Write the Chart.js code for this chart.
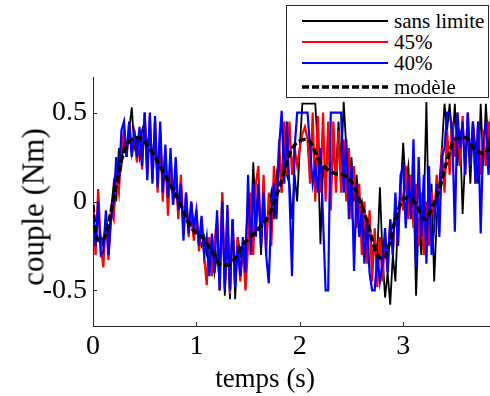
<!DOCTYPE html>
<html>
<head>
<meta charset="utf-8">
<script src="https://cdn.jsdelivr.net/npm/chart.js@4.4.0/dist/chart.umd.min.js"></script>
<style>
  html, body { margin: 0; padding: 0; background: #fff; font-family: 'Liberation Serif', serif; }
  #wrap { position: relative; width: 490px; height: 396px; overflow: hidden; }
  #legend { position: absolute; left: 286px; top: 5px; width: 201px; height: 91px;
    border: 1px solid #262626; background: #fff; color: #000; }
  .row { position: absolute; left: 0; width: 200px; height: 24px; }
  .row svg { position: absolute; left: 15px; top: 0; }
  .row span { position: absolute; left: 107px; top: 0; line-height: 24px; white-space: nowrap;
    font-family: 'Liberation Serif', serif; font-size: 21px; }
  .axt { position: absolute; font-family: 'Liberation Serif', serif; color: #000; white-space: nowrap;
    line-height: 1; }
  #xt { left: 265px; top: 378px; font-size: 27px; transform: translate(-50%, -50%); }
  #yt { left: 33px; top: 207px; font-size: 31px; transform: translate(-50%, -50%) rotate(-90deg); }
</style>
</head>
<body>
<div id="wrap">
  <canvas id="c" width="490" height="396"></canvas>
  <div id="legend"></div>
  <div class="axt" id="xt">temps (s)</div>
  <div class="axt" id="yt">couple (Nm)</div>
</div>
<script>
// time step of the measured signals (s)
const dt = 0.025;

const xTicks = [0, 1, 2, 3];
const yTicks = [-0.5, 0, 0.5];
const yTickLabels = ["-0.5", "0", "0.5"];

const seriesNames = ["sans limite", "45%", "40%", "modèle"];

// sans limite
const sansLimite = [
  -0.10, -0.25, -0.05, -0.20,  -0.25, -0.10, -0.20, -0.05,
  0.10, 0.00, 0.30, 0.20,      0.35, 0.30, 0.40, 0.53,
  0.30, 0.35, 0.25, 0.40,      0.45, 0.30, 0.40, 0.25,
  0.30, 0.15, 0.25, 0.10,      0.20, 0.00, 0.15, 0.05,
  0.10, -0.05, 0.05, -0.10,    -0.05, -0.15, -0.10, -0.20,
  -0.15, -0.20, -0.25, -0.20,  -0.30, -0.35, -0.25, -0.40,
  -0.30, -0.45, 0.05, -0.53,   -0.20, -0.55, -0.10, -0.55,
  -0.20, -0.30, -0.35, -0.25,  0.00, -0.20, 0.22, -0.10,
  0.10, -0.30, 0.00, -0.20,    -0.05, 0.05, -0.10, 0.15,
  0.25, 0.05, 0.30, 0.15,      0.10, -0.10, 0.15, 0.00,
  0.30, 0.55, 0.55, 0.55,      0.55, 0.55, 0.55, 0.30,
  -0.24, 0.20, 0.10, 0.40,     0.05, 0.30, 0.15, 0.45,
  0.20, 0.56, 0.30, 0.10,      0.25, 0.00, 0.15, -0.05,
  0.00, -0.15, -0.30, -0.10,   -0.35, -0.20, -0.30, 0.08,
  -0.30, -0.54, -0.40, -0.58,  -0.30, -0.45, -0.10, 0.05,
  0.33, 0.10, 0.20, -0.05,     0.10, -0.53, -0.10, -0.30,
  -0.05, 0.56, -0.20, 0.10,    -0.45, -0.10, 0.10, 0.30,
  0.55, 0.40, 0.55, 0.30,      0.55, 0.20, 0.40, -0.07,
  0.25, 0.40, 0.10, 0.45,      0.30, 0.10, 0.55, 0.20,
  0.55, 0.30, 0.50
];

// 45%
const lim45 = [
  0.00, -0.30, 0.07, -0.25,    -0.37, -0.10, -0.33, -0.05,
  -0.10, 0.15, 0.05, 0.30,     0.40, 0.25, 0.45, 0.28,
  0.38, 0.22, 0.40, 0.18,      0.50, 0.15, 0.48, 0.12,
  0.45, 0.05, 0.40, 0.00,      0.30, -0.08, 0.25, -0.02,
  0.20, -0.10, 0.15, -0.15,    0.05, -0.20, 0.00, -0.22,
  -0.05, -0.28, -0.10, -0.30,  -0.47, -0.20, -0.42, -0.22,
  -0.10, -0.50, 0.05, -0.48,   -0.05, -0.52, -0.10, -0.45,
  -0.20, -0.45, -0.25, -0.50,  -0.25, 0.05, -0.30, 0.10,
  0.20, -0.25, 0.15, -0.30,    0.05, -0.25, 0.20, -0.05,
  0.35, 0.05, 0.45, 0.15,      0.45, 0.15, 0.30, 0.20,
  0.30, 0.38, 0.42, 0.35,      0.10, 0.50, 0.00, 0.48,
  0.05, 0.50, 0.00, 0.45,      -0.05, 0.45, 0.05, 0.40,
  0.05, 0.35, 0.00, 0.30,      -0.10, 0.20, -0.15, 0.10,
  -0.30, 0.00, -0.35, -0.05,   -0.45, -0.15, -0.48, -0.20,
  -0.45, -0.20, -0.40, -0.10,  -0.30, 0.00, -0.25, 0.10,
  -0.05, 0.20, -0.10, 0.15,    -0.15, 0.10, -0.25, 0.05,
  -0.30, 0.00, -0.25, 0.05,    -0.10, 0.15, -0.05, 0.30,
  0.05, 0.40, 0.15, 0.45,      0.25, 0.50, 0.20, 0.48,
  0.15, 0.50, 0.20, 0.45,      0.10, 0.45, 0.15, 0.40,
  0.20, 0.45, 0.30
];

// 40%
const lim40 = [
  -0.05, -0.25, 0.00, -0.30,   -0.28, -0.05, -0.30, -0.10,
  0.00, 0.25, 0.10, 0.40,      0.45, 0.25, 0.45, 0.25,
  0.40, 0.25, 0.42, 0.20,      0.50, 0.12, 0.50, 0.10,
  0.48, 0.08, 0.45, 0.05,      0.32, 0.02, 0.30, -0.02,
  0.25, -0.05, 0.10, -0.22,    0.05, -0.18, 0.00, -0.15,
  -0.05, -0.25, -0.08, -0.30,  -0.20, -0.42, -0.18, -0.40,
  -0.05, -0.50, 0.00, -0.50,   -0.02, -0.50, -0.10, -0.48,
  -0.25, -0.42, -0.20, -0.40,  0.15, -0.30, 0.10, -0.20,
  0.10, -0.25, 0.05, -0.30,    -0.46, -0.05, 0.10, -0.10,
  0.30, 0.51, 0.10, 0.45,      0.05, -0.42, 0.30, 0.50,
  0.50, 0.50, 0.50, 0.50,      0.30, 0.10, 0.20, 0.05,
  0.30, -0.10, -0.50, -0.50,   0.50, 0.50, 0.50, 0.50,
  0.50, 0.05, 0.35, -0.10,     0.20, -0.39, 0.10, -0.20,
  -0.05, -0.35, -0.10, -0.40,  -0.50, -0.50, -0.30, -0.45,
  -0.35, -0.15, -0.40, -0.10,  -0.30, 0.05, -0.25, 0.15,
  0.20, -0.15, 0.15, -0.10,    0.35, -0.37, 0.25, -0.20,
  0.15, -0.35, 0.20, -0.30,    -0.15, 0.10, -0.20, 0.25,
  0.30, 0.50, 0.50, 0.40,      -0.17, 0.50, 0.30, 0.45,
  0.15, 0.50, 0.20, 0.45,      0.10, 0.45, -0.18, 0.35,
  0.45, 0.15, 0.40
];

// modèle (smooth reference curve)
const modelT = [0, 0.02, 0.06, 0.12, 0.17, 0.22, 0.27, 0.33, 0.43, 0.52,
  0.62, 0.73, 0.85, 0.94, 1.07, 1.17, 1.25, 1.35, 1.44, 1.54,
  1.62, 1.70, 1.78, 1.85, 1.91, 1.97, 2.07, 2.2, 2.33, 2.46,
  2.55, 2.65, 2.75, 2.81, 2.87, 2.92, 3.02, 3.12, 3.21, 3.29,
  3.36, 3.42, 3.50, 3.60, 3.68, 3.78, 3.84];
const modelV = [-0.02, -0.15, -0.22, -0.19, -0.07, 0.08, 0.22, 0.32, 0.36, 0.32,
  0.23, 0.11, -0.02, -0.14, -0.21, -0.30, -0.36, -0.34, -0.25, -0.19,
  -0.14, -0.08, 0.04, 0.17, 0.28, 0.33, 0.35, 0.22, 0.16, 0.14,
  0.05, -0.11, -0.30, -0.32, -0.23, -0.11, 0.02, -0.01, -0.10, -0.02,
  0.09, 0.22, 0.35, 0.36, 0.30, 0.27, 0.30];

const colors = ["#000000", "#ff0000", "#0000ff", "#000000"];

function pts(vals) {
  return vals.map(function (v, i) { return { x: i * dt, y: v }; });
}
var modelPts = modelT.map(function (t, i) { return { x: t, y: modelV[i] }; });

// legend (html so the labels stay real text)
var legend = document.getElementById("legend");
var rowTops = [3, 24, 45, 69];
seriesNames.forEach(function (name, i) {
  var row = document.createElement("div");
  row.className = "row";
  row.style.top = rowTops[i] + "px";
  var dash = i === 3 ? ' stroke-dasharray="7 3" stroke-width="3.5"' : ' stroke-width="2"';
  row.innerHTML = '<svg width="86" height="24"><line x1="0" y1="12" x2="86" y2="12" stroke="' +
    colors[i] + '"' + dash + '/></svg><span></span>';
  row.querySelector("span").textContent = name;
  legend.appendChild(row);
});

// inward tick marks, matlab style
const tickMarks = {
  id: "tickMarks",
  afterDraw: function (chart) {
    var ctx = chart.ctx, xs = chart.scales.x, ys = chart.scales.y, a = chart.chartArea;
    ctx.save();
    ctx.strokeStyle = "#262626";
    ctx.lineWidth = 1;
    ctx.beginPath();
    xTicks.forEach(function (v) {
      var px = Math.round(xs.getPixelForValue(v)) + 0.5;
      ctx.moveTo(px, a.bottom); ctx.lineTo(px, a.bottom - 4);
    });
    yTicks.forEach(function (v) {
      var py = Math.round(ys.getPixelForValue(v)) + 0.5;
      ctx.moveTo(a.left, py); ctx.lineTo(a.left + 4, py);
    });
    ctx.stroke();
    ctx.restore();
  }
};

var serif = "'Liberation Serif', 'Times New Roman', serif";

new Chart(document.getElementById("c").getContext("2d"), {
  type: "line",
  data: {
    datasets: [
      { label: seriesNames[3], data: modelPts, borderColor: colors[3], borderWidth: 3.5,
        borderDash: [7, 3], tension: 0.4, cubicInterpolationMode: "monotone", pointRadius: 0, order: 0 },
      { label: seriesNames[2], data: pts(lim40), borderColor: colors[2], borderWidth: 2.2,
        pointRadius: 0, tension: 0, order: 1 },
      { label: seriesNames[1], data: pts(lim45), borderColor: colors[1], borderWidth: 2.2,
        pointRadius: 0, tension: 0, order: 2 },
      { label: seriesNames[0], data: pts(sansLimite), borderColor: colors[0], borderWidth: 1.8,
        pointRadius: 0, tension: 0, order: 3 }
    ]
  },
  options: {
    responsive: false,
    devicePixelRatio: 1,
    animation: false,
    layout: { padding: { top: 77, right: 0, left: 0, bottom: 0 } },
    plugins: { legend: { display: false }, tooltip: { enabled: false } },
    scales: {
      x: {
        type: "linear", min: 0, max: 3.84,
        afterBuildTicks: function (s) { s.ticks = xTicks.map(function (v) { return { value: v }; }); },
        afterFit: function (s) { s.height = 70; },
        ticks: { color: "#000", padding: 4, font: { family: serif, size: 28 },
          callback: function (v) { return String(v); } },
        grid: { display: false, drawTicks: false },
        border: { display: true, color: "#262626", width: 1 }
      },
      y: {
        type: "linear", min: -0.7, max: 0.7,
        afterBuildTicks: function (s) { s.ticks = yTicks.map(function (v) { return { value: v }; }); },
        afterFit: function (s) { s.width = 93; },
        ticks: { color: "#000", padding: 6, font: { family: serif, size: 28 },
          callback: function (v) { return yTickLabels[yTicks.indexOf(v)]; } },
        grid: { display: false, drawTicks: false },
        border: { display: true, color: "#262626", width: 1 }
      }
    }
  },
  plugins: [tickMarks]
});
</script>
</body>
</html>
